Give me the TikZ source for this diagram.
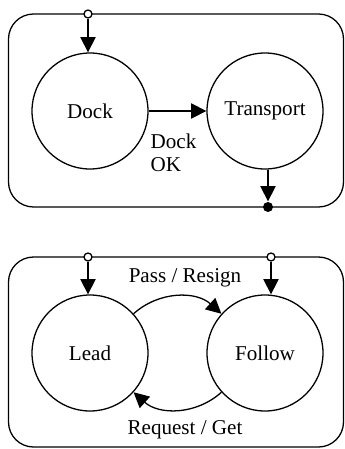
\documentclass[tikz,border=0pt]{standalone}
\usepackage{fontspec}
\setmainfont{Liberation Serif}
\usetikzlibrary{arrows.meta, positioning}
\tikzstyle{statenode} = [circle, minimum size=3.48cm, inner sep=0pt, draw=black]
\tikzstyle{frame} = [draw=black, rounded corners=0.75cm]
\tikzstyle{port} = [circle, minimum size=0.24cm, inner sep=0pt, draw=black, fill=white]
\tikzstyle{sink} = [circle, minimum size=0.3cm, inner sep=0pt, fill=black]
\tikzstyle{arrow} = [-{Triangle[length=13pt, width=13pt]}]

\begin{document}
\begin{tikzpicture}[x=0.03cm, y=-0.03cm, line width=1.1pt, font=\fontsize{18}{20}\selectfont]
    \useasboundingbox (0, 0) rectangle (345, 449);

    % docking
    \draw [frame] (8.5, 14) rectangle (343.5, 207);
    \node (dock) [statenode] at (90, 111) {Dock};
    \node (transport) [statenode] at (265, 111) {Transport};
    \node (dockin) [port] at (88, 14) {};
    \node (dockout) [sink] at (268, 207) {};
    \node (dockok) [anchor=west, align=left, inner sep=0pt] at (150, 153) {Dock\\OK};

    \draw [arrow] (dockin) -- (dockin |- dock.north);
    \draw [arrow] (dock) -- (transport);
    \draw [arrow] (transport.south -| dockout) -- (dockout);

    % platooning
    \draw [frame] (8.5, 257) rectangle (343.5, 447);
    \node (lead) [statenode] at (90, 353) {Lead};
    \node (follow) [statenode] at (265, 353) {Follow};
    \node (leadin) [port] at (88, 257) {};
    \node (followin) [port] at (271, 257) {};
    \node (pass) at (185, 278) {Pass / Resign};
    \node (request) at (185, 430) {Request / Get};

    \draw [arrow] (leadin) -- (leadin |- lead.north);
    \draw [arrow] (followin) -- (followin |- follow.north);
    \draw [arrow] (lead) to [bend left=42] (follow);
    \draw [arrow] (follow) to [bend left=42] (lead);

\end{tikzpicture}
\end{document}
